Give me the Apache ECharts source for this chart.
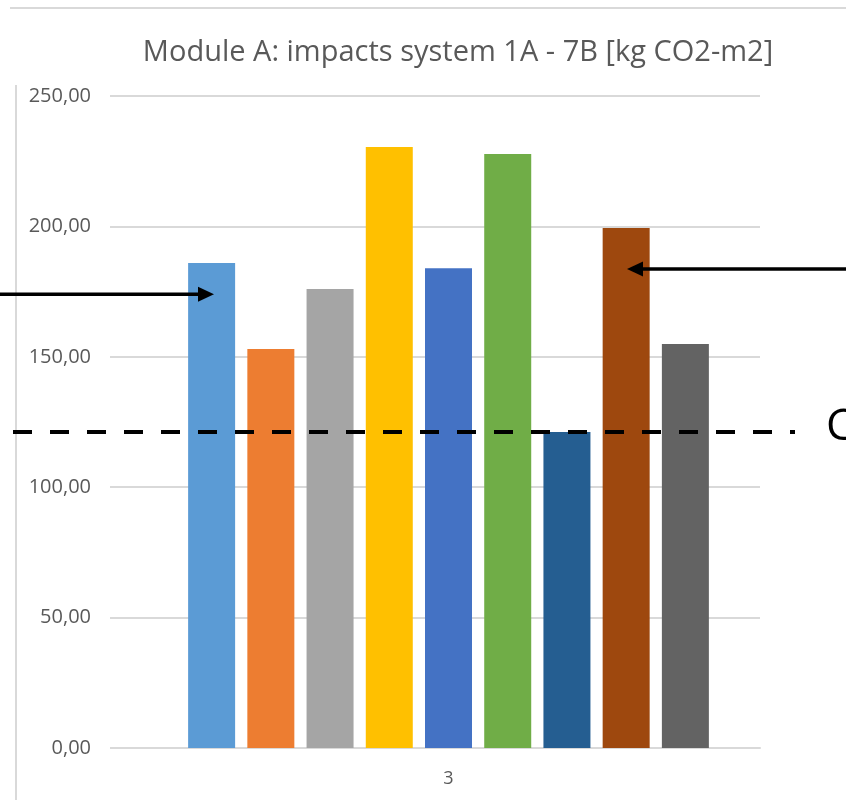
<!DOCTYPE html>
<html><head><meta charset="utf-8">
<script src="https://cdn.jsdelivr.net/npm/echarts@6/dist/echarts.min.js"></script>
<style>html,body{margin:0;padding:0;background:#fff}#c{width:846px;height:800px}</style>
</head><body><div id="c"></div>
<script>
const categories = ['3'];
const seriesNames = ['S1','S2','S3','S4','S5','S6','S7','S8','S9'];
const seriesValues = [186.0, 153.0, 176.0, 230.4, 184.0, 227.8, 121.2, 199.4, 154.9];
const seriesColors = ['#5B9BD5','#ED7D31','#A5A5A5','#FFC000','#4472C4','#70AD47','#255E91','#9E480E','#636363'];
const yTicks = [0, 50, 100, 150, 200, 250];
const referenceLine = 121.2;
const leftArrowValue = 174;
const rightArrowValue = 183.7;

const chart = echarts.init(document.getElementById('c'));
const series = seriesNames.map((n, i) => ({
  name: n, type: 'bar', data: [seriesValues[i]], barWidth: 47, barGap: '26%',
  itemStyle: { color: seriesColors[i] }
}));
chart.setOption({
  animation: false,
  title: { text: 'Module A: impacts system 1A - 7B [kg CO2-m2]', left: 453, top: 33, textAlign: 'center',
    textStyle: { fontFamily: 'Open Sans', fontSize: 29, fontWeight: 'normal', color: '#595959' } },
  grid: { left: 137, right: 86, top: 96, bottom: 52 },
  xAxis: { type: 'category', data: categories,
    axisLine: { lineStyle: { color: '#D9D9D9', width: 2 } }, axisTick: { show: false },
    axisLabel: { color: '#595959', fontFamily: 'Open Sans', fontSize: 18, margin: 22 } },
  yAxis: { type: 'value', min: yTicks[0], max: yTicks[yTicks.length-1], interval: 50,
    axisLine: { show: false },
    axisTick: { show: true, length: 27, lineStyle: { color: '#D9D9D9', width: 2 } },
    splitLine: { lineStyle: { color: '#D9D9D9', width: 2 } },
    axisLabel: { color: '#595959', fontFamily: 'Open Sans', fontSize: 20, margin: 46,
      formatter: v => v.toFixed(2).replace('.', ',') } },
  series
});

const yRef = chart.convertToPixel({yAxisIndex: 0}, referenceLine);
const yL = chart.convertToPixel({yAxisIndex: 0}, leftArrowValue);
const yR = chart.convertToPixel({yAxisIndex: 0}, rightArrowValue);
chart.setOption({
  graphic: [
    { type: 'line', shape: { x1: 10, y1: 8, x2: 846, y2: 8 }, style: { stroke: '#D9D9D9', lineWidth: 2 } },
    { type: 'line', shape: { x1: 16, y1: 85, x2: 16, y2: 800 }, style: { stroke: '#D9D9D9', lineWidth: 2 } },
    { type: 'line', z: 100, shape: { x1: 13, y1: yRef, x2: 795, y2: yRef },
      style: { stroke: '#000', lineWidth: 4, lineDash: [19, 18] } },
    { type: 'line', z: 100, shape: { x1: 0, y1: yL, x2: 200, y2: yL }, style: { stroke: '#000', lineWidth: 3.5 } },
    { type: 'polygon', z: 100, shape: { points: [[214, yL], [198, yL - 7.5], [198, yL + 7.5]] }, style: { fill: '#000' } },
    { type: 'line', z: 100, shape: { x1: 640, y1: yR, x2: 846, y2: yR }, style: { stroke: '#000', lineWidth: 3.5 } },
    { type: 'polygon', z: 100, shape: { points: [[627, yR], [643, yR - 7.5], [643, yR + 7.5]] }, style: { fill: '#000' } },
    { type: 'text', z: 100, left: 826, top: yRef - 26, style: { text: 'C', font: '44px "Open Sans"', fill: '#000' } }
  ]
});
</script></body></html>
